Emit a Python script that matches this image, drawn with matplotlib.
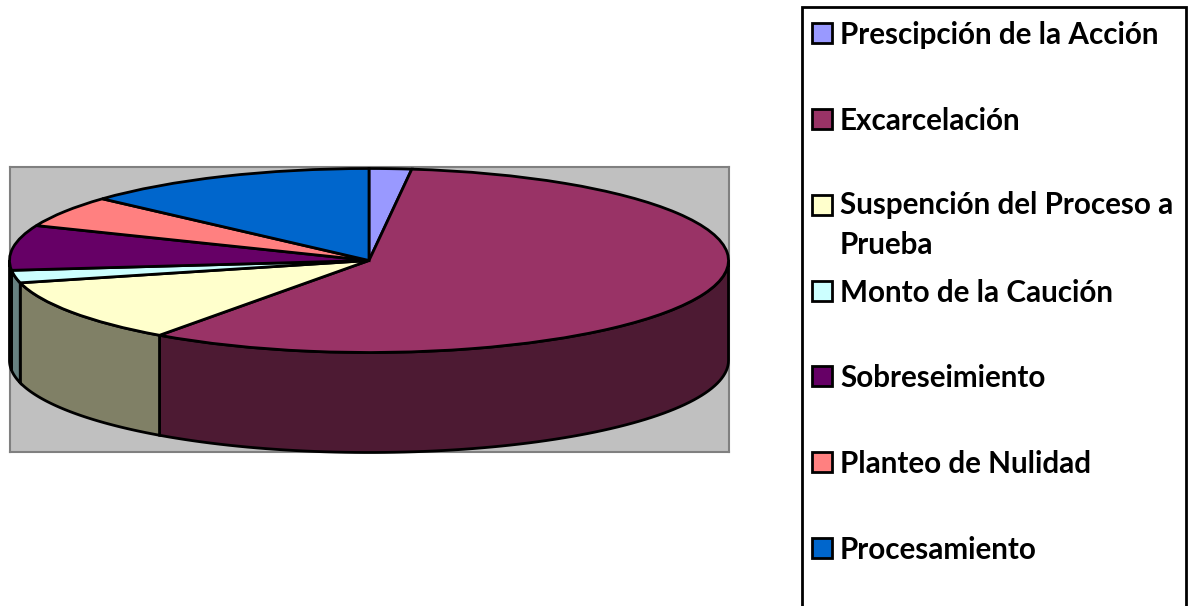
import numpy as np
import matplotlib
matplotlib.use("Agg")
import matplotlib.pyplot as plt
from matplotlib.colors import to_rgb
from matplotlib.patches import Rectangle

categorias = ["Prescipción de la Acción", "Excarcelación", "Suspención del Proceso a\nPrueba",
              "Monto de la Caución", "Sobreseimiento", "Planteo de Nulidad", "Procesamiento"]
valores = [1.9, 58.0, 11.2, 2.2, 7.9, 5.5, 13.3]
colores = ["#9999FF", "#993366", "#FFFFCC", "#CCFFFF", "#660066", "#FF8080", "#0066CC"]

W, H = 1194, 606
RY = 92  # pixeles del radio vertical de la elipse
ALTO = 100 / RY  # altura del cilindro en radios verticales

plt.rcParams["font.family"] = ["Lato", "DejaVu Sans"]

fig = plt.figure(figsize=(W / 100, H / 100), dpi=100)

# zona del grafico: el rectangulo gris
ax = fig.add_axes([9.5 / W, 1 - 451.5 / H, 719 / W, 284.5 / H])

# torta de arriba
ax.pie(valores, colors=colores, startangle=90, counterclock=False, radius=1,
       wedgeprops={"edgecolor": "black", "linewidth": 2, "zorder": 3, "clip_on": False})
ax.set_aspect("auto")
ax.set_xlim(-1, 1)
ax.set_ylim(1 - 283 / RY, 1 + 1.5 / RY)

# costado del cilindro, solo la mitad de adelante
limites = np.cumsum([0] + valores) / sum(valores) * 360
for i, color in enumerate(colores):
    a0 = max(limites[i], 90)
    a1 = min(limites[i + 1], 270)
    if a1 <= a0:
        continue
    t = np.radians(np.linspace(a0, a1, 80))
    x = np.sin(t)
    y = np.cos(t)
    px = np.concatenate([x, x[::-1]])
    py = np.concatenate([y, y[::-1] - ALTO])
    oscuro = tuple(c * 0.5 for c in to_rgb(color))
    ax.fill(px, py, facecolor=oscuro, edgecolor="black", linewidth=2, zorder=2, clip_on=False)

ax.set_frame_on(True)
ax.set_facecolor("#C0C0C0")
for s in ax.spines.values():
    s.set_edgecolor("#808080")
    s.set_linewidth(1.5)
    s.set_zorder(1)

# leyenda en pixeles
ley = fig.add_axes([0, 0, 1, 1])
ley.set_xlim(0, W)
ley.set_ylim(H, 0)
ley.axis("off")
ley.add_patch(Rectangle((802, 7), 383.5, H, facecolor="white", edgecolor="black", linewidth=2))
ley_y = [33, 118.8, 204.7, 290.5, 376.3, 462.2, 548]
for nombre, color, y in zip(categorias, colores, ley_y):
    ley.add_patch(Rectangle((812, y - 10), 20, 20, facecolor=color, edgecolor="black", linewidth=2))
    # va="baseline" toma la ultima linea del texto
    y_texto = y + 11 + nombre.count("\n") * 38
    ley.text(840, y_texto, nombre, fontsize=21.3, fontweight="bold", va="baseline", ha="left",
             color="black", linespacing=1.53)

fig.savefig("out.png", dpi=100)
